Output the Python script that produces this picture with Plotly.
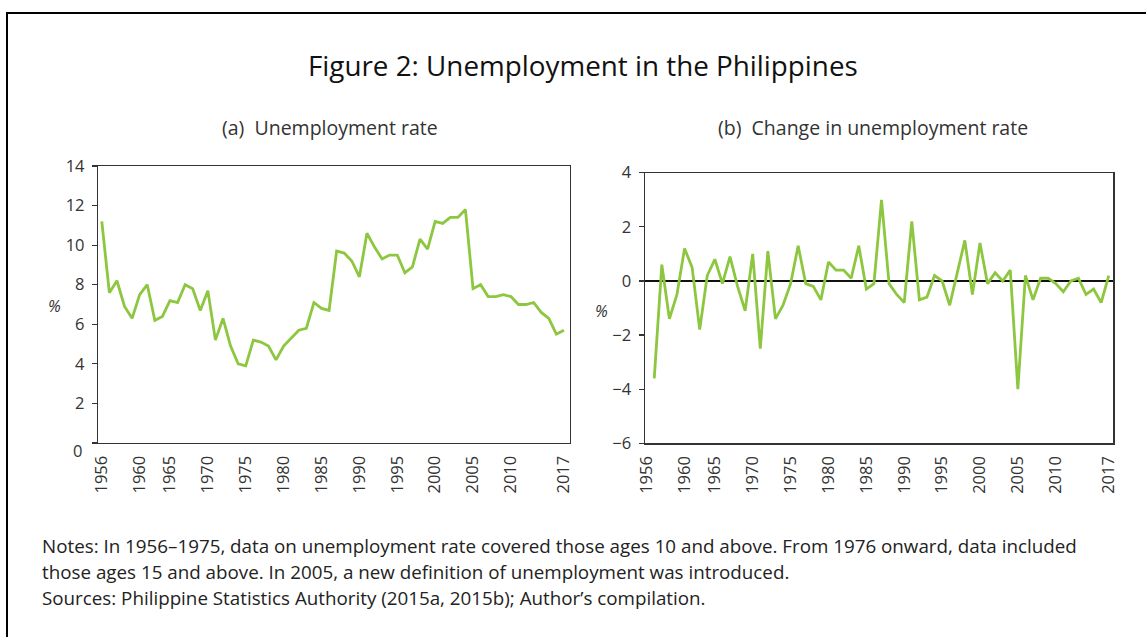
import plotly.graph_objects as go

W, H = 1146, 637

years = [1956, 1957, 1958, 1959, 1960, 1961, 1962, 1963, 1964, 1965,
         1966, 1967, 1968, 1969, 1970, 1971, 1972, 1973, 1974, 1975,
         1976, 1977, 1978, 1979, 1980, 1981, 1982, 1983, 1984, 1985,
         1986, 1987, 1988, 1989, 1990, 1991, 1992, 1993, 1994, 1995,
         1996, 1997, 1998, 1999, 2000, 2001, 2002, 2003, 2004, 2005,
         2006, 2007, 2008, 2009, 2010, 2011, 2012, 2013, 2014, 2015,
         2016, 2017]

unemployment_rate = [11.2, 7.6, 8.2, 6.9, 6.3, 7.5, 8.0, 6.2, 6.4, 7.2,
                     7.1, 8.0, 7.8, 6.7, 7.7, 5.2, 6.3, 4.9, 4.0, 3.9,
                     5.2, 5.1, 4.9, 4.2, 4.9, 5.3, 5.7, 5.8, 7.1, 6.8,
                     6.7, 9.7, 9.6, 9.2, 8.4, 10.6, 9.9, 9.3, 9.5, 9.5,
                     8.6, 8.9, 10.3, 9.8, 11.2, 11.1, 11.4, 11.4, 11.8, 7.8,
                     8.0, 7.4, 7.4, 7.5, 7.4, 7.0, 7.0, 7.1, 6.6, 6.3,
                     5.5, 5.7]

change_years = years[1:]
change_in_rate = [-3.6, 0.6, -1.4, -0.5, 1.2, 0.5, -1.8, 0.2, 0.8, -0.1,
                  0.9, -0.2, -1.1, 1.0, -2.5, 1.1, -1.4, -0.9, -0.1, 1.3,
                  -0.1, -0.2, -0.7, 0.7, 0.4, 0.4, 0.1, 1.3, -0.3, -0.1,
                  3.0, -0.1, -0.5, -0.8, 2.2, -0.7, -0.6, 0.2, 0.0, -0.9,
                  0.3, 1.5, -0.5, 1.4, -0.1, 0.3, 0.0, 0.4, -4.0, 0.2,
                  -0.7, 0.1, 0.1, -0.1, -0.4, 0.0, 0.1, -0.5, -0.3, -0.8,
                  0.2]

tick_labels = ["1956", "1960", "1965", "1970", "1975", "1980", "1985",
               "1990", "1995", "2000", "2005", "2010", "2017"]
tick_positions = [1956, 1961, 1965, 1970, 1975, 1980, 1985,
                  1990, 1995, 2000, 2005, 2010, 2017]

rate_ticks = [0, 2, 4, 6, 8, 10, 12, 14]
rate_tick_text = ["", "2", "4", "6", "8", "10", "12", "14"]

title_text = "Figure 2: Unemployment in the Philippines"
subtitle_a = "(a)\u00a0\u00a0Unemployment rate"
subtitle_b = "(b)\u00a0\u00a0Change in unemployment rate"
note_lines = [
    "Notes: In 1956\u20131975, data on unemployment rate covered those ages 10 and above. From 1976 onward, data included",
    "those ages 15 and above. In 2005, a new definition of unemployment was introduced.",
    "Sources: Philippine Statistics Authority (2015a, 2015b); Author\u2019s compilation.",
]

GREEN = "#8dc63f"
FONT = "Open Sans"
AXC = "#333333"


def px(x):
    return x / W


def py(y):
    return 1 - y / H


fig = go.Figure()
fig.add_trace(go.Scatter(x=years, y=unemployment_rate, mode="lines",
                         line=dict(color=GREEN, width=2.8),
                         xaxis="x", yaxis="y", showlegend=False,
                         hoverinfo="skip"))
fig.add_trace(go.Scatter(x=change_years, y=change_in_rate, mode="lines",
                         line=dict(color=GREEN, width=2.8),
                         xaxis="x2", yaxis="y2", showlegend=False,
                         hoverinfo="skip"))

xcommon = dict(tickmode="array", tickvals=tick_positions, ticktext=tick_labels,
               tickangle=-90, showgrid=False, zeroline=False, showline=True,
               linecolor=AXC, linewidth=1.2, mirror=True, ticks="",
               automargin=False, ticklabelstandoff=5,
               tickfont=dict(family=FONT, size=16.5, color="#333"))
ycommon = dict(showgrid=False, showline=True, linecolor=AXC, linewidth=1.2,
               mirror=True, ticks="outside", ticklen=5, tickcolor=AXC,
               tickwidth=1.2, automargin=False, ticklabelstandoff=4,
               tickfont=dict(family=FONT, size=16.5, color="#333"))

fig.update_layout(
    width=W, height=H,
    margin=dict(l=0, r=0, t=0, b=0, pad=0, autoexpand=False),
    paper_bgcolor="white", plot_bgcolor="white",
    xaxis=dict(domain=[px(98), px(570)], range=[1955.5, 2017.8], anchor="y", **xcommon),
    yaxis=dict(domain=[py(443), py(166)], range=[0, 14], tickmode="array",
               tickvals=rate_ticks, ticktext=rate_tick_text, anchor="x",
               zeroline=False, **ycommon),
    xaxis2=dict(domain=[px(644.7), px(1113.3)], range=[1955.74, 2017.6], anchor="y2", **xcommon),
    yaxis2=dict(domain=[py(443.3), py(172.7)], range=[-6, 4], dtick=2, anchor="x2",
                zeroline=True, zerolinecolor="#111", zerolinewidth=1.4, **ycommon),
    shapes=[
        dict(type="line", xref="paper", yref="paper", x0=px(7), x1=px(7),
             y0=0, y1=py(13), line=dict(color="black", width=2)),
        dict(type="line", xref="paper", yref="paper", x0=px(6), x1=1,
             y0=py(13), y1=py(13), line=dict(color="black", width=2)),
    ],
    annotations=[
        dict(text=title_text, x=px(583), y=py(65), xref="paper", yref="paper",
             showarrow=False, xanchor="center", yanchor="middle",
             font=dict(family=FONT, size=27.8, color="#111")),
        dict(text=subtitle_a, x=px(330), y=py(128), xref="paper", yref="paper",
             showarrow=False, xanchor="center", yanchor="middle",
             font=dict(family=FONT, size=19.5, color="#333")),
        dict(text=subtitle_b, x=px(873), y=py(128), xref="paper", yref="paper",
             showarrow=False, xanchor="center", yanchor="middle",
             font=dict(family=FONT, size=19.5, color="#333")),
        dict(text="0", x=px(84), y=rate_ticks[0], xref="paper", yref="y",
             yshift=-8, showarrow=False, xanchor="right", yanchor="middle",
             font=dict(family=FONT, size=16.5, color="#333")),
        dict(text="<i>%</i>", x=px(54), y=py(306), xref="paper", yref="paper",
             showarrow=False, xanchor="center", yanchor="middle",
             font=dict(family=FONT, size=16, color="#333")),
        dict(text="<i>%</i>", x=px(601), y=py(311), xref="paper", yref="paper",
             showarrow=False, xanchor="center", yanchor="middle",
             font=dict(family=FONT, size=16, color="#333")),
    ] + [
        dict(text=line, x=px(40), y=py(546 + 26 * i), xref="paper", yref="paper",
             showarrow=False, xanchor="left", yanchor="middle",
             font=dict(family=FONT, size=18.8, color="#222"))
        for i, line in enumerate(note_lines)
    ],
)

fig.write_html("out.html", config={"displayModeBar": False, "staticPlot": True},
               post_script="document.body.style.margin='0';document.body.style.overflow='hidden';")
